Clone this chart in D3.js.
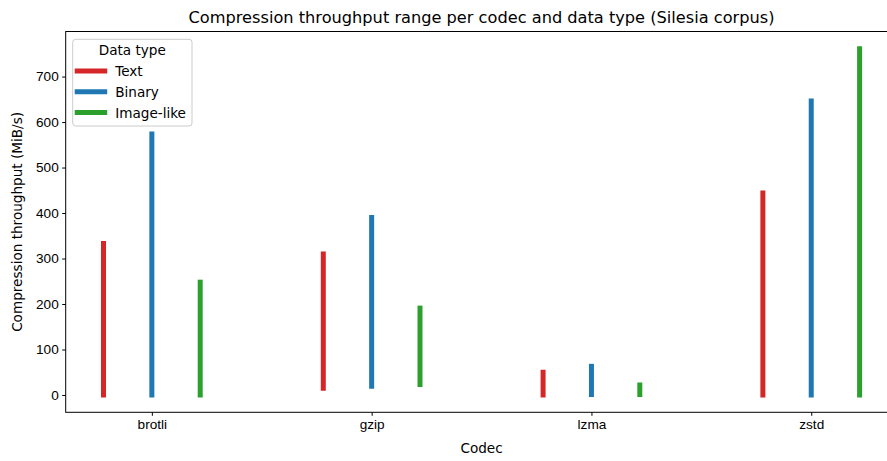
<!DOCTYPE html>
<html lang="en">
<head>
    <meta charset="UTF-8">
    <title>Compression throughput range</title>
    <script src="https://cdn.jsdelivr.net/npm/d3@7"></script>
    <style>
        body { margin: 0; background: #fff; }
        svg { display: block; font-family: "DejaVu Sans", sans-serif; }
        .tick text { font-size: 13.6px; fill: #000; }
        .tick line, .domain { stroke: #000; }
    </style>
</head>
<body>

<svg id="chart" width="887" height="461"></svg>

<script>

    var codecs = ["brotli", "gzip", "lzma", "zstd"];
    var dataTypes = ["Text", "Binary", "Image-like"];
    var colors = ["#d62728", "#1f77b4", "#2ca02c"];

    // min / max throughput (MiB/s) per codec, one array per data type
    var textMin = [0, 15, 0, 0];
    var textMax = [333, 310, 50, 444];
    var binaryMin = [0, 19, 1, 0];
    var binaryMax = [574, 390, 63, 646];
    var imageMin = [0, 23, 1, 0];
    var imageMax = [248, 191, 22, 761];

    var yTicks = [0, 100, 200, 300, 400, 500, 600, 700];

    var mins = [textMin, binaryMin, imageMin];
    var maxs = [textMax, binaryMax, imageMax];
    var offset = 0.22;

    var margin = {left: 65.7, top: 31.5, right: 897.4, bottom: 412.3};

    var svg = d3.select("#chart");

    // 5% padding like matplotlib autoscale
    var xLo = -offset, xHi = codecs.length - 1 + offset;
    var xPad = (xHi - xLo) * 0.05;
    var x = d3.scaleLinear()
            .domain([xLo - xPad, xHi + xPad])
            .range([margin.left, margin.right]);

    var yLo = d3.min(mins, function(a) { return d3.min(a); });
    var yHi = d3.max(maxs, function(a) { return d3.max(a); });
    var yPad = (yHi - yLo) * 0.05;
    var y = d3.scaleLinear()
            .domain([yLo - yPad, yHi + yPad])
            .range([margin.bottom, margin.top]);

    var segs = [];
    dataTypes.forEach(function(t, j) {
        codecs.forEach(function(c, i) {
            segs.push({x: i + (j - 1) * offset, lo: mins[j][i], hi: maxs[j][i], color: colors[j]});
        });
    });

    svg.append("g")
            .selectAll("line.seg")
            .data(segs)
            .enter()
            .append("line")
            .attr("class", "seg")
            .attr("x1", function(d) { return x(d.x); })
            .attr("x2", function(d) { return x(d.x); })
            .attr("y1", function(d) { return y(d.lo); })
            .attr("y2", function(d) { return y(d.hi); })
            .attr("stroke", function(d) { return d.color; })
            .attr("stroke-width", 5)
            .attr("stroke-linecap", "square");

    // axes
    svg.append("g")
            .attr("transform", "translate(0," + margin.bottom + ")")
            .call(d3.axisBottom(x).tickValues(d3.range(codecs.length))
                    .tickFormat(function(i) { return codecs[i]; })
                    .tickSize(3.5).tickPadding(3.5).tickSizeOuter(0));

    svg.append("g")
            .attr("transform", "translate(" + margin.left + ",0)")
            .call(d3.axisLeft(y).tickValues(yTicks).tickSize(3.5).tickPadding(3.5).tickSizeOuter(0));

    svg.selectAll(".domain").remove();

    // frame
    svg.append("rect")
            .attr("x", margin.left)
            .attr("y", margin.top)
            .attr("width", margin.right - margin.left)
            .attr("height", margin.bottom - margin.top)
            .attr("fill", "none")
            .attr("stroke", "#000")
            .attr("stroke-width", 1);

    var cx = (margin.left + margin.right) / 2;

    svg.append("text")
            .attr("x", cx)
            .attr("y", 23)
            .attr("text-anchor", "middle")
            .style("font-size", "16.2px")
            .text("Compression throughput range per codec and data type (Silesia corpus)");

    svg.append("text")
            .attr("x", cx)
            .attr("y", 453)
            .attr("text-anchor", "middle")
            .style("font-size", "13.6px")
            .text("Codec");

    svg.append("text")
            .attr("transform", "translate(22," + ((margin.top + margin.bottom) / 2) + ") rotate(-90)")
            .attr("text-anchor", "middle")
            .style("font-size", "13.6px")
            .text("Compression throughput (MiB/s)");

    // legend
    var lg = svg.append("g").attr("transform", "translate(72.7,39.3)");

    lg.append("rect")
            .attr("width", 119.3)
            .attr("height", 86.7)
            .attr("rx", 3)
            .attr("fill", "#fff")
            .attr("fill-opacity", 0.8)
            .attr("stroke", "#ccc");

    lg.append("text")
            .attr("x", 59.6)
            .attr("y", 16)
            .attr("text-anchor", "middle")
            .style("font-size", "13.6px")
            .text("Data type");

    var item = lg.selectAll("g.item")
            .data(dataTypes)
            .enter()
            .append("g")
            .attr("class", "item")
            .attr("transform", function(d, j) { return "translate(0," + (31.7 + j * 20.8) + ")"; });

    item.append("line")
            .attr("x1", 2)
            .attr("x2", 34.5)
            .attr("stroke", function(d, j) { return colors[j]; })
            .attr("stroke-width", 5);

    item.append("text")
            .attr("x", 42.5)
            .attr("y", 5)
            .style("font-size", "13.6px")
            .text(function(d) { return d; });

</script>

</body>
</html>
